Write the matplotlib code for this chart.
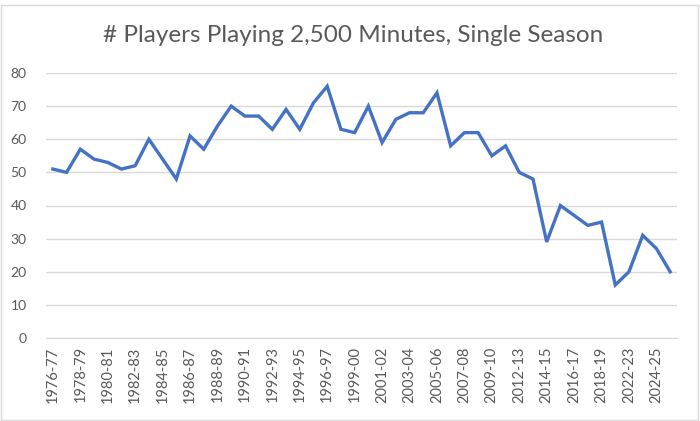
import matplotlib
matplotlib.use("Agg")
import matplotlib.pyplot as plt
from matplotlib.patches import Rectangle

plt.rcParams['font.family'] = ['Lato', 'DejaVu Sans']

seasons = [f"{y}-{str(y+1)[-2:]}" for y in range(1976, 1998)] + \
          [f"{y}-{str(y+1)[-2:]}" for y in range(1999, 2011)] + \
          [f"{y}-{str(y+1)[-2:]}" for y in range(2012, 2019)] + \
          [f"{y}-{str(y+1)[-2:]}" for y in range(2021, 2026)]

players = [51, 50, 57, 54, 53, 51, 52, 60, 54, 48, 61, 57, 64, 70, 67, 67, 63, 69, 63, 71, 76, 63,
           62, 70, 59, 66, 68, 68, 74, 58, 62, 62, 55, 58,
           50, 48, 29, 40, 37, 34, 35,
           16, 20, 31, 27, 20]

yticks = [0, 10, 20, 30, 40, 50, 60, 70, 80]

fig = plt.figure(figsize=(7.0, 4.21), dpi=100)
ax = fig.add_axes([46/700, 1-338/421, (677-46)/700, (338-73)/421])

x = list(range(len(players)))
ax.plot(x, players, color='#4472C4', linewidth=2.4, solid_joinstyle='miter', zorder=3)

ax.set_xlim(-0.5, len(players) - 0.5)
ax.set_ylim(0, 80)
ax.set_yticks(yticks)
ax.set_yticklabels([str(t) for t in yticks])
ax.yaxis.grid(True, color='#D9D9D9', linewidth=1.0)
ax.set_axisbelow(True)
ax.set_xticks(x[::2])
ax.set_xticklabels(seasons[::2], rotation=90)
for s in ['top', 'right', 'left']:
    ax.spines[s].set_visible(False)
ax.spines['bottom'].set_color('#D9D9D9')
ax.tick_params(axis='both', length=0, colors='#595959')
ax.tick_params(axis='y', pad=14, labelsize=10)
ax.tick_params(axis='x', pad=6, labelsize=10.5)

fig.text(353/700, 1-35/421, '# Players Playing 2,500 Minutes, Single Season',
         ha='center', va='center', fontsize=17.5, color='#595959')

fig.patches.append(Rectangle((1/700, 1/421), 697/700, 415/421, transform=fig.transFigure,
                             fill=False, edgecolor='#D9D9D9', linewidth=1.0))

fig.savefig('out.png', dpi=100, facecolor='white')
